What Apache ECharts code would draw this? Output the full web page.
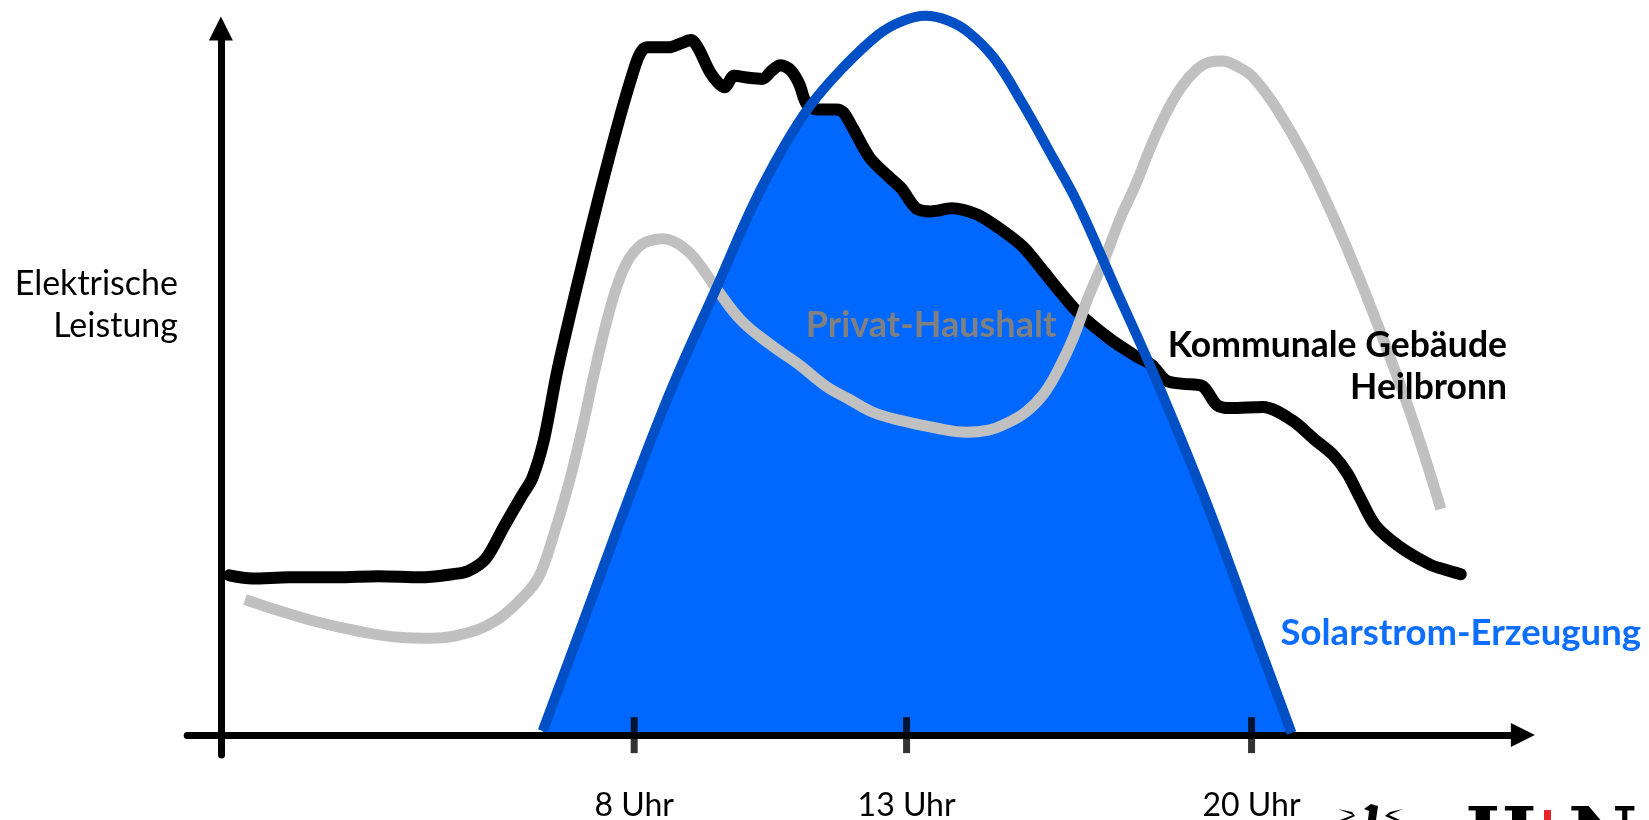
<!DOCTYPE html>
<html><head><meta charset="utf-8">
<script src="https://cdn.jsdelivr.net/npm/echarts@6/dist/echarts.min.js"></script>
<style>html,body{margin:0;padding:0;background:#fff}#c{width:1649px;height:820px}</style>
</head><body><div id="c"></div>
<script>
// x: schematic time of day (drawing units), y: electrical power (drawing units)
const tickLabels = ['8 Uhr', '13 Uhr', '20 Uhr'];
const tickPositions = [393, 652, 980];

const kommunal = [[8,152],[30,149],[65,150],[110,150],[150,151],[190,150],[220,153],[235,156],[252,168],[269,198],[287,229],[296,244],[307,280],[320,347],[341,437],[360,514],[377,579],[390,624],[398,647],[405,654],[426,654],[438,658],[447,661],[454,653],[466,629],[479,616],[488,627],[502,625],[515,624],[524,632],[532,637],[542,632],[550,619],[557,600],[567,595],[585,595],[592,592],[601,577],[617,549],[635,531],[647,520],[661,501],[675,498],[695,501],[719,495],[740,482],[763,464],[783,440],[800,419],[816,401],[845,377],[869,361],[885,352],[899,337],[915,334],[933,332],[947,314],[960,311],[991,312],[1019,299],[1040,281],[1058,266],[1071,249],[1083,226],[1098,199],[1121,179],[1150,162],[1165,157],[1179,153]];

const privat = [[23,129],[50,120],[90,108],[130,99],[170,93],[200,92],[230,96],[260,108],[285,129],[302,150],[316,189],[330,236],[343,289],[355,344],[367,394],[378,431],[388,453],[398,465],[408,470],[420,472],[435,467],[450,454],[473,422],[495,394],[523,371],[550,352],[575,332],[598,319],[620,307],[647,299],[680,292],[709,288],[730,290],[744,295],[765,307],[782,324],[797,349],[811,379],[825,417],[840,452],[855,491],[870,524],[884,559],[898,590],[913,616],[928,633],[940,640],[952,641],[966,636],[981,626],[1005,594],[1034,543],[1063,481],[1093,408],[1131,306],[1160,215]];

const solar = [[306,4],[348,117],[390,231],[430,333],[472,427],[506,504],[535,559],[560,598],[590,633],[625,666],[648,679],[670,684],[690,680],[710,669],[735,644],[762,601],[790,551],[814,507],[851,424],[888,341],[936,224],[977,113],[1018,2]];

// part of the consumption that is covered by solar power (filled area)
const solarCovered = [[306,4],[348,117],[390,231],[430,333],[472,427],[506,504],[535,559],[560,598],[567,595],[585,595],[592,592],[601,577],[617,549],[635,531],[647,520],[661,501],[675,498],[695,501],[719,495],[740,482],[763,464],[783,440],[800,419],[816,401],[845,377],[869,361],[884,351],[888,341],[936,224],[977,113],[1018,2]];

const FONT = 'Lato, "Noto Sans", sans-serif';
const chart = echarts.init(document.getElementById('c'), null, {renderer: 'canvas'});
chart.setOption({
  animation: false,
  backgroundColor: '#ffffff',
  grid: {left: 187.2, right: 126.1, top: 28.4, bottom: 64.9, containLabel: false, outerBoundsMode: 'none'},
  xAxis: {
    type: 'value', min: -32, max: 1238, z: 3,
    splitLine: {show: false},
    axisTick: {show: false},
    axisLine: {onZero: true, symbol: ['none', 'triangle'], symbolSize: [24, 24], lineStyle: {color: '#000', width: 7}},
    axisLabel: {
      customValues: tickPositions,
      formatter: function (v) { const i = tickPositions.indexOf(v); return i >= 0 ? tickLabels[i] : ''; },
      color: '#000', fontSize: 32, fontFamily: FONT, margin: 35
    }
  },
  yAxis: {
    type: 'value', min: -19, max: 672, z: 3,
    splitLine: {show: false},
    axisTick: {show: false},
    axisLabel: {show: false},
    axisLine: {onZero: true, symbol: ['none', 'triangle'], symbolSize: [24, 24], lineStyle: {color: '#000', width: 7}}
  },
  series: [
    {type: 'line', data: solarCovered, symbol: 'none', silent: true, clip: false, z: 1,
     lineStyle: {width: 0}, areaStyle: {color: '#0068ff', opacity: 1}},
    {type: 'line', data: kommunal, symbol: 'none', silent: true, clip: false, z: 2, smooth: 0.3,
     lineStyle: {color: '#000', width: 12, cap: 'round', join: 'round'}},
    {type: 'line', data: privat, symbol: 'none', silent: true, clip: false, z: 3, smooth: 0.4,
     lineStyle: {color: '#c0c0c0', width: 11, cap: 'butt', join: 'round'}},
    {type: 'line', data: solar, symbol: 'none', silent: true, clip: false, z: 4, smooth: 0.4,
     lineStyle: {color: '#004fc4', width: 10, cap: 'butt', join: 'round'}},
    {type: 'scatter', data: tickPositions.map(function (x) { return [x, 0]; }), symbol: 'rect',
     symbolSize: [7, 36], itemStyle: {color: '#000'}, silent: true, clip: false, z: 6}
  ],
  graphic: [
    {type: 'text', x: 178, y: 305, z: 10, style: {text: 'Elektrische\nLeistung', align: 'right', verticalAlign: 'middle', font: '34px ' + FONT, lineHeight: 42, fill: '#000'}},
    {type: 'text', x: 931, y: 325, z: 10, style: {text: 'Privat-Haushalt', align: 'center', verticalAlign: 'middle', font: 'bold 36px ' + FONT, fill: '#808080'}},
    {type: 'text', x: 1507, y: 367, z: 10, style: {text: 'Kommunale Gebäude\nHeilbronn', align: 'right', verticalAlign: 'middle', font: 'bold 35.5px ' + FONT, lineHeight: 42, fill: '#000'}},
    {type: 'text', x: 1641, y: 633, z: 10, style: {text: 'Solarstrom-Erzeugung', align: 'right', verticalAlign: 'middle', font: 'bold 36.5px ' + FONT, fill: '#0d6efd'}},
    // Heilbronn logo (cut off at the bottom edge)
    {type: 'polygon', z: 10, shape: {points: [[1338,809],[1353,815],[1340,820],[1346,820],[1355,816],[1352,812]]}, style: {fill: '#000'}},
    {type: 'polygon', z: 10, shape: {points: [[1364,809],[1371,804],[1378,806],[1376,820],[1368,820],[1369,811]]}, style: {fill: '#000'}},
    {type: 'polygon', z: 10, shape: {points: [[1403,809],[1389,815],[1400,820],[1394,820],[1385,816],[1390,812]]}, style: {fill: '#000'}},
    {type: 'text', x: 1465, y: 842, z: 10, style: {text: 'H', align: 'left', verticalAlign: 'middle', font: 'bold 76px "DejaVu Serif", serif', fill: '#000'}},
    {type: 'rect', z: 10, shape: {x: 1544, y: 810, width: 7, height: 12}, style: {fill: '#e8262a'}},
    {type: 'text', x: 1568, y: 842, z: 10, style: {text: 'N', align: 'left', verticalAlign: 'middle', font: 'bold 76px "DejaVu Serif", serif', fill: '#000'}}
  ]
});
</script></body></html>
